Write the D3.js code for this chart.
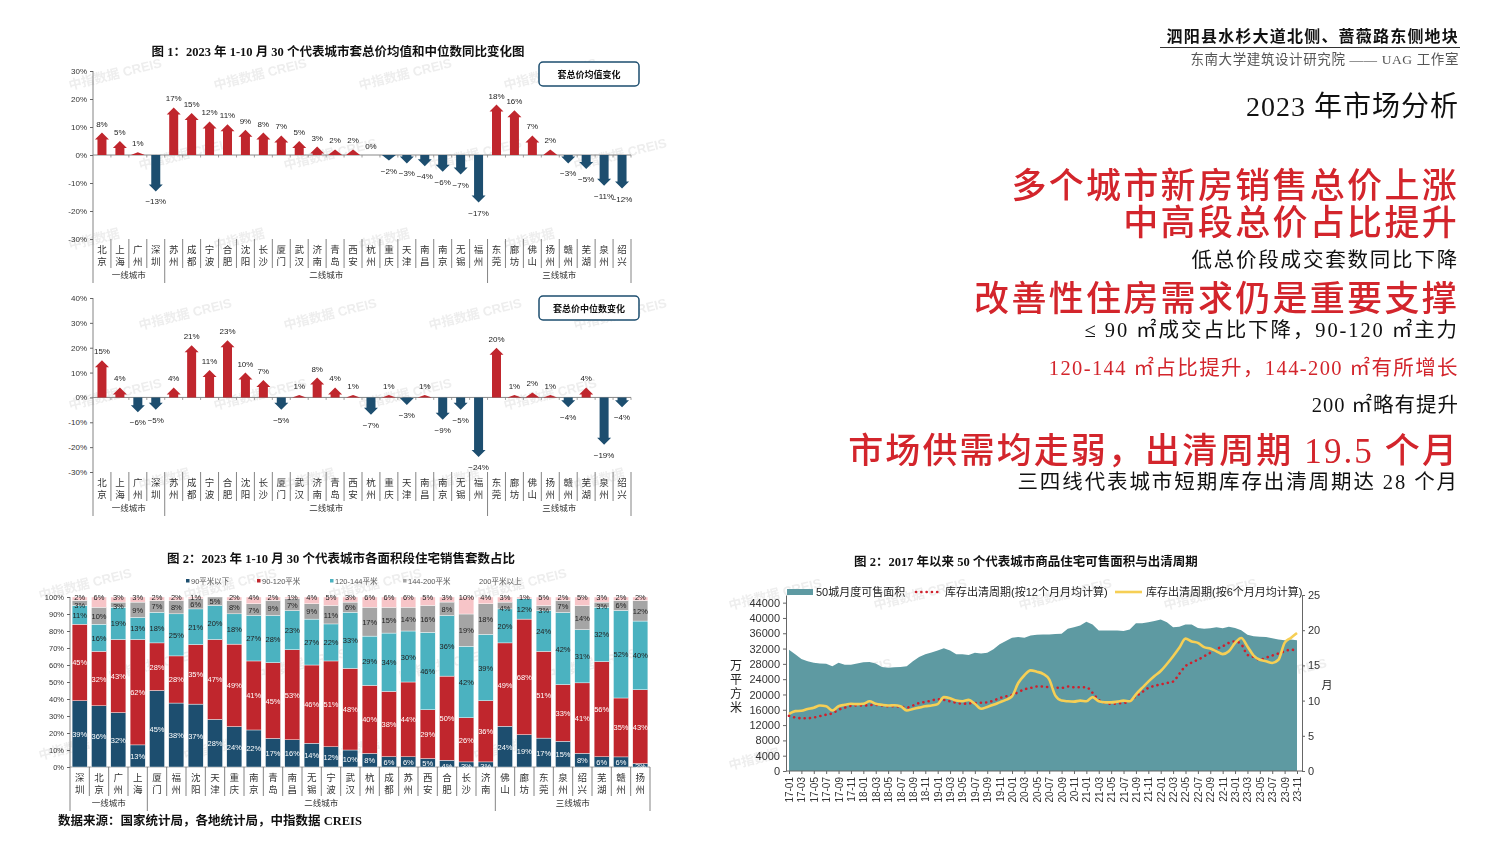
<!DOCTYPE html>
<html>
<head>
<meta charset="utf-8">
<script src="https://cdn.jsdelivr.net/npm/d3@7"></script>
<style>
  body { margin: 0; background: #fff; }
  svg { display: block; }
  text { font-family: "Liberation Sans", "Noto Sans CJK SC", sans-serif; }
  .serif { font-family: "Liberation Serif", "Noto Sans CJK SC", serif; }
</style>
</head>
<body>
<div id="chart"></div>
<script>
const W = 1500, H = 857;

// ---------- data ----------
const tierNames = ["一线城市", "二线城市", "三线城市"];
const tierSizes = [4, 18, 8];

const priceCities = ["北京","上海","广州","深圳","苏州","成都","宁波","合肥","沈阳","长沙","厦门","武汉","济南","青岛","西安",
  "杭州","重庆","天津","南昌","南京","无锡","福州","东莞","廊坊","佛山","扬州","赣州","芜湖","泉州","绍兴"];
const meanChange = [8, 5, 1, -13, 17, 15, 12, 11, 9, 8, 7, 5, 3, 2, 2, 0, -2, -3, -4, -6, -7, -17, 18, 16, 7, 2, -3, -5, -11, -12];
const medianChange = [15, 4, -6, -5, 4, 21, 11, 23, 10, 7, -5, 1, 8, 4, 1, -7, 1, -3, 1, -9, -5, -24, 20, 1, 2, 1, -4, 4, -19, -4];

const areaCities = ["深圳","北京","广州","上海","厦门","福州","沈阳","天津","重庆","南京","青岛","南昌","无锡","宁波","武汉",
  "杭州","成都","苏州","西安","合肥","长沙","济南","佛山","廊坊","东莞","泉州","绍兴","芜湖","赣州","扬州"];
const areaBands = ["90平米以下", "90-120平米", "120-144平米", "144-200平米", "200平米以上"];
const below90    = [39, 36, 32, 13, 45, 38, 37, 28, 24, 22, 17, 16, 14, 12, 10, 8, 6, 6, 5, 4, 3, 3, 24, 19, 17, 15, 8, 6, 6, 2];
const from90to120  = [45, 32, 43, 62, 28, 28, 35, 47, 49, 41, 45, 53, 46, 51, 48, 40, 38, 44, 29, 50, 26, 36, 49, 68, 51, 33, 41, 56, 35, 43];
const from120to144 = [11, 16, 19, 13, 18, 25, 21, 20, 18, 27, 28, 23, 27, 22, 33, 29, 34, 30, 46, 36, 42, 39, 20, 12, 24, 42, 31, 32, 52, 40];
const from144to200 = [3, 10, 3, 9, 7, 8, 6, 5, 8, 7, 9, 7, 9, 11, 6, 17, 15, 14, 16, 8, 19, 18, 4, 0, 3, 7, 14, 3, 6, 12];
const above200   = [2, 6, 3, 3, 2, 2, 1, 0, 2, 4, 2, 1, 4, 5, 3, 6, 6, 6, 5, 3, 10, 4, 3, 1, 5, 2, 5, 3, 2, 2];

// 2017-01 .. 2023-11
const supplyArea = [
  31700, 30500, 29300, 28700, 28300, 28100, 28000, 27400, 28300, 27800, 27800, 28100,
  28400, 28500, 28100, 27200, 27000, 27100, 27200, 27400, 28700, 29800, 30500, 31000,
  31500, 32100, 31500, 30500, 30500, 30300, 30900, 30700, 30900, 31800, 33100, 34000,
  34800, 35000, 34800, 35400, 35600, 35700, 35700, 35800, 35900, 37200, 37600, 38000,
  39000, 38300, 36700, 36700, 36700, 36700, 36600, 37000, 38600, 38600, 38900, 39200,
  39600, 38900, 37600, 37700, 38300, 38300, 37400, 37200, 37300, 37600, 37300, 37700,
  37400, 36800, 35600, 35200, 35100, 35000, 34700, 34400, 34200, 34400, 34200];
const cycle12 = [
  7.85, 7.6, 7.5, 7.5, 7.6, 7.8, 8.0, 8.2, 8.7, 9.0, 9.25, 9.3,
  9.3, 9.35, 9.4, 9.3, 9.2, 9.2, 9.15, 9.0, 9.3, 9.65, 9.8, 10.0,
  10.2, 10.1, 9.9, 9.7, 9.55, 9.6, 9.65, 9.7, 9.75, 10.0, 10.35, 10.6,
  10.8, 11.2, 11.6, 11.8, 12.0, 12.0, 11.9, 11.85, 11.8, 12.0, 11.9, 11.9,
  11.9, 11.1, 10.1, 9.7, 9.55, 9.6, 9.65, 9.9, 10.6, 11.2, 11.8, 12.1,
  12.3, 12.5, 12.7, 13.8, 14.9, 15.4, 15.8, 16.3, 16.8, 17.3, 17.7, 18.2,
  18.4, 18.0, 16.5, 16.2, 15.8, 16.1, 16.4, 16.7, 17.0, 17.25, 17.0];
const cycle6 = [
  8.1, 8.5, 8.55, 8.8, 9.0, 9.3, 9.2, 8.6, 9.2, 9.4, 9.55, 9.5,
  9.55, 9.9, 9.55, 9.4, 9.3, 9.35, 9.2, 8.6, 8.8, 9.0, 9.2, 9.3,
  9.5, 10.5, 10.35, 10.0, 9.9, 10.1, 9.55, 8.85, 9.1, 9.4, 9.75, 10.1,
  10.6, 12.5, 13.6, 14.3, 14.1, 13.8, 13.0, 10.7, 10.0, 9.9, 9.85, 10.0,
  9.9, 10.5, 9.9, 9.75, 9.75, 9.85, 10.0, 9.9, 10.9, 11.8, 12.7, 13.5,
  14.2, 15.2, 16.3, 17.5, 18.8, 18.4, 18.2, 17.6, 17.4, 17.0, 16.6, 17.0,
  18.2, 18.9, 17.7, 16.4, 15.8, 15.6, 15.35, 15.8, 18.2, 18.9, 19.6];
const months = d3.timeMonth.range(new Date(2017, 0, 1), new Date(2023, 11, 1));

// ---------- colours ----------
const RED = "#c0262d", BLUE = "#1d4e6f";
const bandColors = ["#1d4e6f", "#c0262d", "#4bb2c0", "#a5a5a5", "#f7c5c8"];
const bandText = ["#fff", "#fff", "#222", "#222", "#222"];

const svg = d3.select("#chart").append("svg")
  .attr("width", W).attr("height", H);
svg.append("rect").attr("width", W).attr("height", H).attr("fill", "#fff");

// watermarks
const wm = svg.append("g").attr("fill", "#c8c8c8").attr("opacity", 0.32)
  .attr("font-size", 13).attr("font-weight", "bold");
[[70, 60, 660, 520], [40, 570, 680, 830], [730, 580, 1330, 810]].forEach(([x0, y0, x1, y1]) => {
  let row = 0;
  for (let yy = y0 + 30; yy < y1; yy += 80, row++) {
    for (let xx = x0 + (row % 2 ? 70 : 0); xx < x1 - 60; xx += 145) {
      wm.append("text").attr("transform", `translate(${xx},${yy}) rotate(-14)`)
        .text(row % 3 === 2 ? "中指数据" : "中指数据 CREIS");
    }
  }
});

// ---------- helpers ----------
function tierBounds() {
  let acc = 0;
  return tierSizes.map((s, i) => { const b = { name: tierNames[i], start: acc, end: acc + s }; acc += s; return b; });
}

function categoryAxis(g, x, cities, bottom) {
  const bw = x.step();
  const x0 = x.range()[0];
  const cat = g.append("g").attr("font-size", 9.5).attr("fill", "#333");
  cities.forEach(c => {
    const cx = x(c) + x.bandwidth() / 2;
    const t = cat.append("text").attr("text-anchor", "middle");
    t.append("tspan").attr("x", cx).attr("y", bottom + 14).text(c[0]);
    t.append("tspan").attr("x", cx).attr("y", bottom + 26).text(c[1]);
  });
  const bounds = tierBounds();
  const startSet = new Set(bounds.map(b => b.start));
  for (let i = 1; i <= cities.length; i++) {
    const xx = x0 + i * bw;
    const long = startSet.has(i) || i === cities.length;
    g.append("line").attr("x1", xx).attr("x2", xx)
      .attr("y1", bottom).attr("y2", bottom + (long ? 44 : 29))
      .attr("stroke", "#666").attr("stroke-width", 0.8);
  }
  bounds.forEach(b => {
    g.append("text").attr("x", x0 + (b.start + b.end) / 2 * bw).attr("y", bottom + 39)
      .attr("text-anchor", "middle").attr("font-size", 8.5).attr("fill", "#333").text(b.name);
  });
}

function arrowChart(cfg) {
  const g = svg.append("g");
  const x = d3.scaleBand().domain(priceCities).range([93, 631]);
  const y = d3.scaleLinear().domain(cfg.domain).range([cfg.bottom, cfg.top]);

  if (cfg.title) {
    g.append("text").attr("class", "serif").attr("x", 338).attr("y", cfg.titleY)
      .attr("text-anchor", "middle").attr("font-size", 12.5).attr("font-weight", "bold")
      .attr("fill", "#111").text(cfg.title);
  }

  const yAxis = d3.axisLeft(y)
    .tickValues(d3.range(cfg.domain[0], cfg.domain[1] + 1, 10))
    .tickFormat(d => d + "%").tickSize(3);
  g.append("g").attr("transform", "translate(93,0)").call(yAxis)
    .call(a => a.select(".domain").remove())
    .call(a => a.selectAll("text").attr("font-size", 8).attr("fill", "#333"))
    .call(a => a.selectAll("line").attr("stroke", "#666"));
  g.append("line").attr("x1", 93).attr("x2", 93).attr("y1", cfg.top).attr("y2", cfg.bottom + 44)
    .attr("stroke", "#666").attr("stroke-width", 0.8);

  // zero line with small ticks
  g.append("line").attr("x1", x.range()[0]).attr("x2", x.range()[1])
    .attr("y1", y(0)).attr("y2", y(0)).attr("stroke", "#888").attr("stroke-width", 1);
  for (let i = 1; i <= priceCities.length; i++) {
    const xx = x.range()[0] + i * x.step();
    g.append("line").attr("x1", xx).attr("x2", xx).attr("y1", y(0)).attr("y2", y(0) + 2.5)
      .attr("stroke", "#888").attr("stroke-width", 0.8);
  }

  const data = priceCities.map((c, i) => ({ city: c, v: cfg.values[i] }));
  const shaft = 4.5, head = 7, headH = 7;
  g.append("g").selectAll("path").data(data.filter(d => d.v !== 0)).join("path")
    .attr("fill", d => d.v > 0 ? RED : BLUE)
    .attr("d", d => {
      const cx = x(d.city) + x.bandwidth() / 2;
      const y0 = y(0), yt = y(d.v);
      const dir = d.v > 0 ? 1 : -1;
      const hh = Math.min(headH, Math.abs(y0 - yt));
      const yb = yt + dir * hh;
      return `M${cx - shaft},${y0}L${cx - shaft},${yb}L${cx - head},${yb}L${cx},${yt}` +
             `L${cx + head},${yb}L${cx + shaft},${yb}L${cx + shaft},${y0}Z`;
    });

  g.append("g").attr("font-size", 8).attr("fill", "#222").attr("text-anchor", "middle")
    .selectAll("text").data(data).join("text")
    .attr("x", d => x(d.city) + x.bandwidth() / 2)
    .attr("y", d => d.v >= 0 ? y(d.v) - 6 : y(d.v) + 13)
    .text(d => (d.v < 0 ? "−" + Math.abs(d.v) : d.v) + "%");

  // legend box
  g.append("rect").attr("x", 539).attr("y", cfg.legendY).attr("width", 100).attr("height", 24)
    .attr("rx", 4).attr("fill", "#fff").attr("stroke", "#1d4e6f").attr("stroke-width", 1.5);
  g.append("text").attr("x", 589).attr("y", cfg.legendY + 15.5).attr("text-anchor", "middle")
    .attr("font-size", 9).attr("font-weight", "bold").attr("fill", "#111").text(cfg.legend);

  categoryAxis(g, x, priceCities, cfg.bottom);
}

arrowChart({
  title: "图 1：2023 年 1-10 月 30 个代表城市套总价均值和中位数同比变化图", titleY: 56,
  values: meanChange, domain: [-30, 30], top: 71, bottom: 239, legendY: 62, legend: "套总价均值变化"
});
arrowChart({
  title: "", titleY: 0,
  values: medianChange, domain: [-30, 40], top: 298, bottom: 472, legendY: 296, legend: "套总价中位数变化"
});

// ---------- stacked area-band chart ----------
(function () {
  const g = svg.append("g");
  const x = d3.scaleBand().domain(areaCities).range([70, 650]).paddingInner(0.22).paddingOuter(0.11);
  const y = d3.scaleLinear().domain([0, 1]).range([767, 597]);
  const series = [below90, from90to120, from120to144, from144to200, above200];
  const rows = areaCities.map((c, i) => {
    const r = { city: c };
    areaBands.forEach((b, k) => r[b] = series[k][i]);
    return r;
  });
  const stacked = d3.stack().keys(areaBands).offset(d3.stackOffsetExpand)(rows);

  g.append("text").attr("class", "serif").attr("x", 341).attr("y", 563)
    .attr("text-anchor", "middle").attr("font-size", 12.5).attr("font-weight", "bold")
    .attr("fill", "#111").text("图 2：2023 年 1-10 月 30 个代表城市各面积段住宅销售套数占比");

  // legend
  const lg = g.append("g").attr("font-size", 7.5).attr("fill", "#555");
  const lx = [186, 257, 330, 403, 479];
  areaBands.forEach((b, k) => {
    if (k < 4) lg.append("rect").attr("x", lx[k]).attr("y", 579).attr("width", 3.5).attr("height", 3.5).attr("fill", bandColors[k]);
    lg.append("text").attr("x", lx[k] + (k < 4 ? 5 : 0)).attr("y", 583.5).text(b);
  });

  const yAxis = d3.axisLeft(y).ticks(10).tickFormat(d3.format(".0%")).tickSize(3);
  g.append("g").attr("transform", "translate(70,0)").call(yAxis)
    .call(a => a.select(".domain").remove())
    .call(a => a.selectAll("text").attr("font-size", 7.5).attr("fill", "#333"))
    .call(a => a.selectAll("line").attr("stroke", "#666"));
  g.append("line").attr("x1", 70).attr("x2", 70).attr("y1", 597).attr("y2", 811)
    .attr("stroke", "#666").attr("stroke-width", 0.8);
  g.append("line").attr("x1", 70).attr("x2", 650).attr("y1", 767).attr("y2", 767)
    .attr("stroke", "#888").attr("stroke-width", 0.8);

  stacked.forEach((s, k) => {
    const sg = g.append("g");
    sg.selectAll("rect").data(s).join("rect")
      .attr("x", d => x(d.data.city)).attr("width", x.bandwidth())
      .attr("y", d => y(d[1])).attr("height", d => y(d[0]) - y(d[1]))
      .attr("fill", bandColors[k]).attr("stroke", "#fff").attr("stroke-width", 0.4);
    sg.selectAll("text").data(s.filter(d => d.data[areaBands[k]] > 0)).join("text")
      .attr("x", d => x(d.data.city) + x.bandwidth() / 2)
      .attr("y", d => {
        const h = y(d[0]) - y(d[1]);
        if (k === 4) return y(d[1]) + 3;                 // top band: sit at bar top
        if (h < 8) return y(d[0]) + 2;                    // thin band: hang to lower edge
        return (y(d[0]) + y(d[1])) / 2 + 3;
      })
      .attr("text-anchor", "middle").attr("font-size", 7.5).attr("fill", bandText[k])
      .text(d => d.data[areaBands[k]] + "%");
  });

  // category axis
  const xs = d3.scaleBand().domain(areaCities).range([70, 650]);
  categoryAxis(g, xs, areaCities, 767);

  g.append("text").attr("class", "serif").attr("x", 58).attr("y", 825)
    .attr("font-size", 12.5).attr("font-weight", "bold").attr("fill", "#111")
    .text("数据来源：国家统计局，各地统计局，中指数据 CREIS");
})();

// ---------- supply / clearance cycle chart ----------
(function () {
  const g = svg.append("g");
  const x = d3.scaleLinear().domain([0, months.length - 1]).range([789, 1297]);
  const yL = d3.scaleLinear().domain([0, 46000]).range([771, 595]);
  const yR = d3.scaleLinear().domain([0, 25]).range([771, 595]);

  g.append("text").attr("class", "serif").attr("x", 1026).attr("y", 566)
    .attr("text-anchor", "middle").attr("font-size", 12.5).attr("font-weight", "bold")
    .attr("fill", "#111").text("图 2：2017 年以来 50 个代表城市商品住宅可售面积与出清周期");

  g.append("path").datum(supplyArea)
    .attr("fill", "#5e9aa2")
    .attr("d", d3.area().x((d, i) => x(i)).y0(yL(0)).y1(d => yL(d)));

  g.append("path").datum(cycle12)
    .attr("fill", "none").attr("stroke", "#d0202c").attr("stroke-width", 2.6)
    .attr("stroke-linecap", "round").attr("stroke-dasharray", "0.1,5.2")
    .attr("d", d3.line().curve(d3.curveMonotoneX).x((d, i) => x(i)).y(d => yR(d)));

  g.append("path").datum(cycle6)
    .attr("fill", "none").attr("stroke", "#f6cf55").attr("stroke-width", 2.6)
    .attr("stroke-linejoin", "round")
    .attr("d", d3.line().curve(d3.curveMonotoneX).x((d, i) => x(i)).y(d => yR(d)));

  // axes
  g.append("g").attr("transform", "translate(786,0)")
    .call(d3.axisLeft(yL).tickValues(d3.range(0, 44001, 4000)).tickFormat(d3.format("d")).tickSize(3).tickSizeOuter(0))
    .call(a => a.selectAll("text").attr("font-size", 11).attr("fill", "#333"))
    .call(a => a.selectAll("line,path").attr("stroke", "#666"));
  g.append("g").attr("transform", "translate(1302,0)")
    .call(d3.axisRight(yR).tickValues(d3.range(0, 26, 5)).tickSize(3).tickSizeOuter(0))
    .call(a => a.selectAll("text").attr("font-size", 11).attr("fill", "#333"))
    .call(a => a.selectAll("line,path").attr("stroke", "#666"));

  const fmt = d3.timeFormat("%y-%m");
  const xAxis = d3.axisBottom(x)
    .tickValues(d3.range(0, months.length, 2))
    .tickFormat(i => fmt(months[i])).tickSize(3).tickSizeOuter(0);
  g.append("g").attr("transform", "translate(0,771)").call(xAxis)
    .call(a => a.select(".domain").attr("d", "M786,0H1302"))
    .call(a => a.selectAll("line,path").attr("stroke", "#666"))
    .call(a => a.selectAll("text").attr("font-size", 10).attr("fill", "#333")
      .attr("text-anchor", "end").attr("dy", "0.35em")
      .attr("transform", "translate(0,4) rotate(-90)").attr("x", -2).attr("y", 0));

  // axis titles
  const yt = g.append("text").attr("font-size", 12).attr("fill", "#222").attr("text-anchor", "middle");
  "万平方米".split("").forEach((ch, i) => yt.append("tspan").attr("x", 736).attr("y", 670 + i * 14).text(ch));
  g.append("text").attr("x", 1327).attr("y", 689).attr("font-size", 11).attr("fill", "#222")
    .attr("text-anchor", "middle").text("月");

  // legend
  const lg = g.append("g").attr("font-size", 11).attr("fill", "#222");
  lg.append("rect").attr("x", 787).attr("y", 589).attr("width", 26).attr("height", 6).attr("fill", "#5e9aa2");
  lg.append("text").attr("x", 816).attr("y", 596).text("50城月度可售面积");
  lg.append("line").attr("x1", 916).attr("x2", 942).attr("y1", 592).attr("y2", 592)
    .attr("stroke", "#d0202c").attr("stroke-width", 2.6).attr("stroke-linecap", "round").attr("stroke-dasharray", "0.1,5.2");
  lg.append("text").attr("x", 945).attr("y", 596).text("库存出清周期(按12个月月均计算)");
  lg.append("line").attr("x1", 1115).attr("x2", 1142).attr("y1", 592).attr("y2", 592)
    .attr("stroke", "#f6cf55").attr("stroke-width", 2.6);
  lg.append("text").attr("x", 1146).attr("y", 596).text("库存出清周期(按6个月月均计算)");
})();

// ---------- right-hand text block ----------
(function () {
  const g = svg.append("g").attr("text-anchor", "end");
  const R = 1459;
  const line = (txt, yy, size, color, ls, weight) =>
    g.append("text").attr("class", "serif").attr("x", R).attr("y", yy).attr("font-size", size)
      .attr("fill", color).attr("letter-spacing", ls).attr("font-weight", weight || "normal").text(txt);

  line("泗阳县水杉大道北侧、蔷薇路东侧地块", 42, 16, "#111", 1.2, "bold");
  g.append("line").attr("x1", 1160).attr("x2", 1460).attr("y1", 47.5).attr("y2", 47.5)
    .attr("stroke", "#333").attr("stroke-width", 1);
  line("东南大学建筑设计研究院 —— UAG 工作室", 64, 13.5, "#555", 0.6);
  line("2023 年市场分析", 116, 28, "#111", 1);

  const RD = "#d3252c";
  line("多个城市新房销售总价上涨", 198, 35, RD, 2.3, 500);
  line("中高段总价占比提升", 235, 35, RD, 2.3, 500);
  line("低总价段成交套数同比下降", 267, 20.5, "#111", 1.8);
  line("改善性住房需求仍是重要支撑", 311, 35, RD, 2.3, 500);
  line("≤ 90 ㎡成交占比下降，90-120 ㎡主力", 337, 20.5, "#111", 1.9);
  line("120-144 ㎡占比提升，144-200 ㎡有所增长", 375, 20.5, RD, 1.4);
  line("200 ㎡略有提升", 412, 20.5, "#111", 1);
  line("市场供需均走弱，出清周期 19.5 个月", 463, 35, RD, 2.1, 500);
  line("三四线代表城市短期库存出清周期达 28 个月", 489, 20.5, "#111", 1.9);
})();
</script>
</body>
</html>
